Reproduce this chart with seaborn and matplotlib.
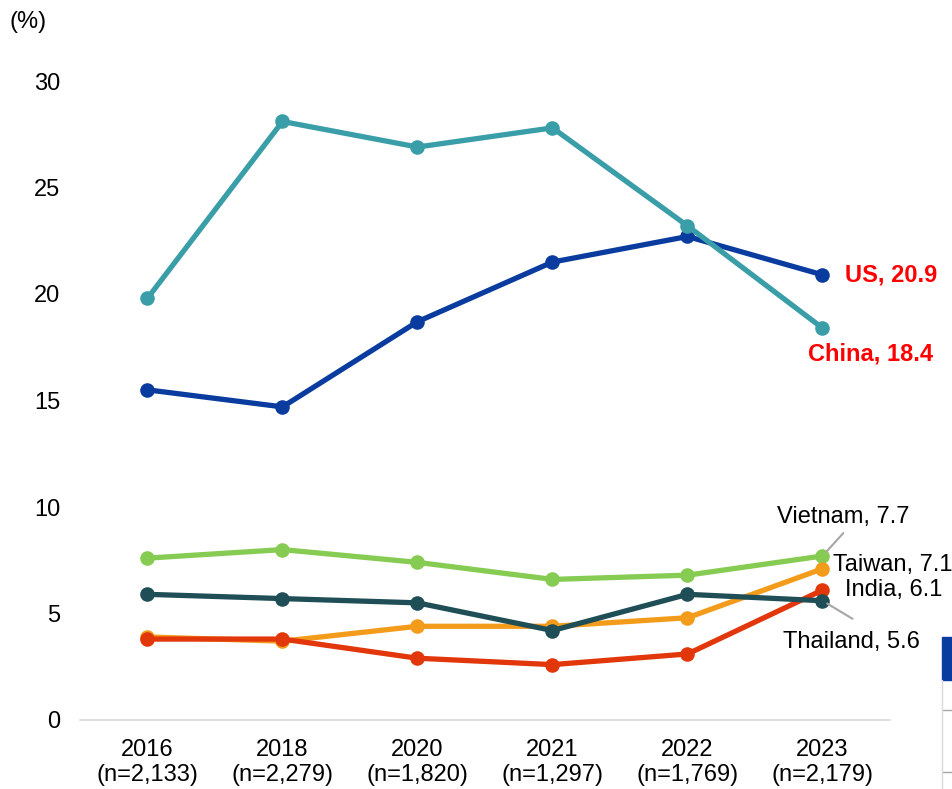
import matplotlib
matplotlib.use("Agg")
import matplotlib.pyplot as plt
import seaborn as sns
import pandas as pd
from matplotlib.patches import Rectangle
from matplotlib.lines import Line2D

years = ["2016", "2018", "2020", "2021", "2022", "2023"]
sample_sizes = ["2,133", "2,279", "1,820", "1,297", "1,769", "2,179"]

china = [19.8, 28.1, 26.9, 27.8, 23.2, 18.4]
us = [15.5, 14.7, 18.7, 21.5, 22.7, 20.9]
vietnam = [7.6, 8.0, 7.4, 6.6, 6.8, 7.7]
thailand = [5.9, 5.7, 5.5, 4.2, 5.9, 5.6]
taiwan = [3.9, 3.7, 4.4, 4.4, 4.8, 7.1]
india = [3.8, 3.8, 2.9, 2.6, 3.1, 6.1]

series = {
    "Vietnam": (vietnam, "#86CB52"),
    "Taiwan": (taiwan, "#F39C1C"),
    "India": (india, "#E2370A"),
    "Thailand": (thailand, "#1F4E56"),
    "US": (us, "#0A3C9F"),
    "China": (china, "#3A9EA8"),
}

rows = []
for name, (vals, _) in series.items():
    for i, v in enumerate(vals):
        rows.append({"idx": i, "value": v, "country": name})
df = pd.DataFrame(rows)

sns.set_style("white")
plt.rcParams["font.family"] = ["Liberation Sans", "DejaVu Sans"]
plt.rcParams["text.color"] = "black"
plt.rcParams["xtick.color"] = "black"
plt.rcParams["ytick.color"] = "black"
FS = 17

fig = plt.figure(figsize=(9.53, 7.89), dpi=100)
ax = fig.add_axes([80 / 953, 1 - 720 / 789, 810 / 953, (720 - 81) / 789])

for name, (vals, color) in series.items():
    sns.lineplot(data=df[df["country"] == name], x="idx", y="value", ax=ax,
                 color=color, linewidth=3.8, marker="o", markersize=10.5,
                 markeredgewidth=0, legend=False)

ax.set_xlim(-0.5, 5.5)
ax.set_ylim(0, 30)
ax.set_yticks(range(0, 31, 5))
ax.set_xticks(range(len(years)))
ax.set_xticklabels([f"{y}\n(n={n})" for y, n in zip(years, sample_sizes)],
                   fontsize=FS, linespacing=1.15)
ax.tick_params(axis="y", labelsize=FS, length=0, pad=14, labelcolor="black")
ax.tick_params(axis="x", length=0, pad=14, labelcolor="black")
ax.set_xlabel("")
ax.set_ylabel("")
for s in ["top", "right", "left"]:
    ax.spines[s].set_visible(False)
ax.spines["bottom"].set_color("#D9D9D9")
ax.spines["bottom"].set_linewidth(1.2)

fig.text(10 / 953, 1 - 22 / 789, "(%)", fontsize=FS, va="center", ha="left",
         color="black")

# End-of-line labels
last = len(years) - 1
ax.annotate(f"US, {us[-1]}", xy=(last, us[-1]), xytext=(16.5, 0),
            textcoords="offset points", color="#FF0000", fontsize=FS,
            fontweight="bold", va="center", ha="left")
ax.annotate(f"China, {china[-1]}", xy=(last, china[-1]), xytext=(34.5, -19),
            textcoords="offset points", color="#FF0000", fontsize=FS,
            fontweight="bold", va="center", ha="center")
ax.annotate(f"Vietnam, {vietnam[-1]}", xy=(last, vietnam[-1]), xytext=(15, 28),
            textcoords="offset points", fontsize=FS, va="center", ha="center",
            color="black")
ax.annotate(f"Taiwan, {taiwan[-1]}", xy=(last, taiwan[-1]), xytext=(7.5, 3),
            textcoords="offset points", fontsize=FS, va="center", ha="left",
            color="black")
ax.annotate(f"India, {india[-1]}", xy=(last, india[-1]), xytext=(16.5, 0),
            textcoords="offset points", fontsize=FS, va="center", ha="left",
            color="black")
ax.annotate(f"Thailand, {thailand[-1]}", xy=(last, thailand[-1]), xytext=(20.5, -29.5),
            textcoords="offset points", fontsize=FS, va="center", ha="center",
            color="black")

# Leader lines for the crowded labels
leader = dict(arrowstyle="-", color="#A6A6A6", lw=1.5, shrinkA=0, shrinkB=4)
ax.annotate("", xy=(last, vietnam[-1]), xytext=(15, 16.5),
            textcoords="offset points", arrowprops=leader)
ax.annotate("", xy=(last, thailand[-1]), xytext=(21.6, -13),
            textcoords="offset points", arrowprops=leader)

# Edge of the neighbouring table panel
fig.patches.append(Rectangle((942 / 953, 1 - 680 / 789), 11 / 953, 43 / 789,
                             transform=fig.transFigure, color="#0A3C9F"))
for yy in (710, 772):
    fig.lines.append(Line2D([942 / 953, 1], [1 - yy / 789] * 2,
                            transform=fig.transFigure, color="#A6A6A6", lw=1))
fig.lines.append(Line2D([942 / 953] * 2, [0, 1 - 680 / 789],
                        transform=fig.transFigure, color="#D9D9D9", lw=1))

fig.savefig("out.png", dpi=100)
